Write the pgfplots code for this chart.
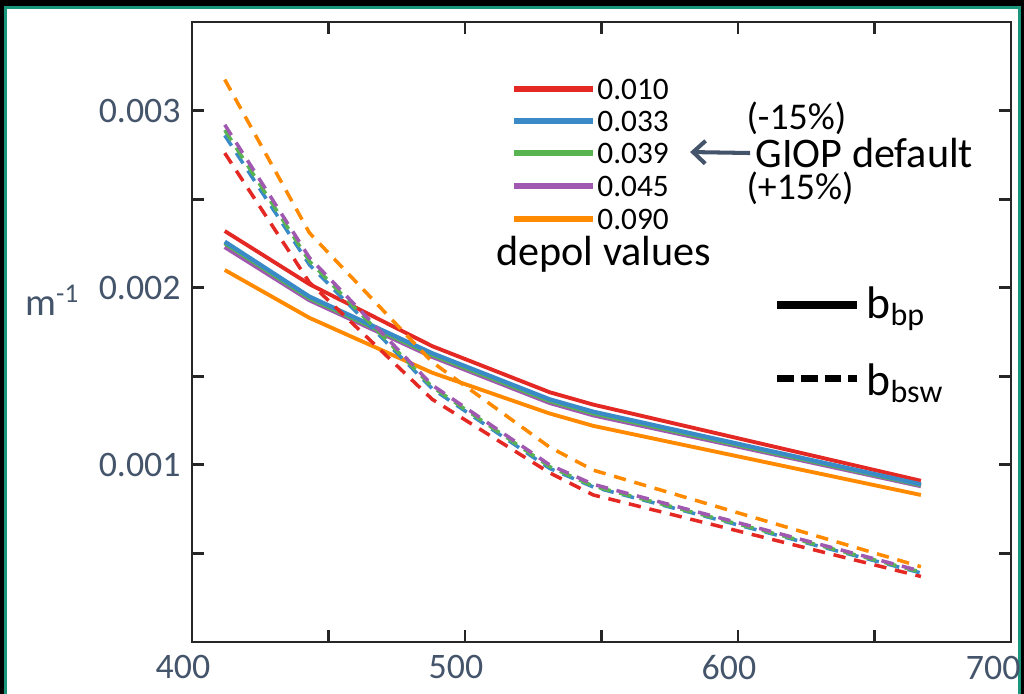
\documentclass[border=0pt]{standalone}
\usepackage{pgfplots}
\pgfplotsset{compat=1.18}
\usepackage{fontspec}
\setmainfont{Carlito}
\usetikzlibrary{arrows.meta}

\definecolor{cred}{RGB}{228,40,36}
\definecolor{cblue}{RGB}{58,138,200}
\definecolor{cgreen}{RGB}{88,180,80}
\definecolor{cpurple}{RGB}{160,88,176}
\definecolor{corange}{RGB}{255,138,0}
\definecolor{slate}{RGB}{68,84,106}
\definecolor{frame}{RGB}{26,150,125}
\definecolor{axgray}{RGB}{38,38,38}

\pgfplotstableread{
wl    red      blue     green     purple   orange
412   0.00232  0.00226  0.00225   0.00223  0.00210
443   0.00202  0.00195  0.00194   0.00193  0.00183
488   0.00167  0.00163  0.00162   0.00161  0.00152
531   0.00141  0.00137  0.00136   0.00135  0.00129
547   0.00134  0.00130  0.00129   0.00128  0.00122
667   0.00091  0.00089  0.000885  0.00088  0.00083
}\bbp

\pgfplotstableread{
wl    red      blue      green     purple   orange
412   0.00276  0.00286   0.00289   0.00292  0.003175
443   0.00203  0.00213   0.00215   0.00217  0.00231
488   0.00137  0.00143   0.00144   0.00145  0.00158
531   0.000955 0.00098   0.00099   0.00100  0.00110
547   0.00083  0.000875  0.00088   0.00089  0.00097
667   0.00037  0.00039   0.000395  0.00040  0.000425
}\bbsw

\begin{document}
\begin{tikzpicture}
% background and frame
\path[use as bounding box] (0,0) rectangle (20.48cm,13.88cm);
\fill[black] (0,0) rectangle (20.48cm,13.88cm);
\fill[frame] (0.08cm,0) rectangle (20.42cm,13.76cm);
\fill[white] (0.14cm,0) rectangle (20.36cm,13.70cm);

\begin{axis}[
    at={(3.84cm,1.04cm)}, anchor=south west,
    scale only axis, width=16.38cm, height=12.4cm,
    xmin=400, xmax=700, ymin=0, ymax=0.0035,
    xtick={400,500,600,700},
    xticklabels={400,500,600,},
    minor xtick={450,550,650},
    ytick={0.001,0.002,0.003},
    yticklabels={0.001,0.002,0.003},
    minor ytick={0.0005,0.0015,0.0025},
    scaled y ticks=false,
    tick align=inside,
    major tick length=6.8pt, minor tick length=6.8pt,
    every tick/.style={axgray, line width=1.6pt},
    axis line style={axgray, line width=1.7pt},
    tick label style={text=slate, font=\fontsize{20.4}{24}\selectfont},
    /pgf/number format/assume math mode=true,
    xticklabel style={yshift=-4pt, xshift=-0.18cm},
    yticklabel style={xshift=-3pt},
    clip=false,
]
\addplot[cred, line width=2.2pt, line join=round] table[x=wl,y=red] {\bbp};
\addplot[cpurple, line width=2.4pt, line join=round] table[x=wl,y=purple] {\bbp};
\addplot[cgreen, line width=2.2pt, line join=round] table[x=wl,y=green] {\bbp};
\addplot[cblue, line width=2.4pt, line join=round] table[x=wl,y=blue] {\bbp};
\addplot[corange, line width=2.2pt, line join=round] table[x=wl,y=orange] {\bbp};

\addplot[cred, line width=2pt, dash pattern=on 7pt off 5pt] table[x=wl,y=red] {\bbsw};
\addplot[cblue, line width=2pt, dash pattern=on 7pt off 5pt] table[x=wl,y=blue] {\bbsw};
\addplot[cgreen, line width=2pt, dash pattern=on 7pt off 5pt] table[x=wl,y=green] {\bbsw};
\addplot[cpurple, line width=2pt, dash pattern=on 7pt off 5pt] table[x=wl,y=purple] {\bbsw};
\addplot[corange, line width=2pt, dash pattern=on 7pt off 5pt] table[x=wl,y=orange] {\bbsw};
\end{axis}

% annotations in pixel coordinates of the reference
\begin{scope}[shift={(0,13.88cm)}, x=0.02cm, y=-0.02cm]
\node[text=slate, inner sep=0pt, font=\fontsize{20.4}{24}\selectfont] at (993,668) {700};
\node[text=slate, anchor=west, inner sep=0pt, font=\fontsize{22}{26}\selectfont] at (25,300) {m\textsuperscript{-1}};

\foreach \c/\v/\yy in {cred/0.010/89, cblue/0.033/121, cgreen/0.039/153, cpurple/0.045/186, corange/0.090/219}{
  \draw[\c, line width=3pt] (514,\yy) -- (593,\yy);
  \node[anchor=west, inner sep=0pt, font=\fontsize{17.8}{20}\selectfont] at (597,\yy) {\v};
}
\node[anchor=west, inner sep=0pt, font=\fontsize{21.5}{24}\selectfont] at (746,118) {(-15\%)};
\node[anchor=west, inner sep=0pt, font=\fontsize{24}{28}\selectfont] at (755,153) {GIOP default};
\node[anchor=west, inner sep=0pt, font=\fontsize{21.5}{24}\selectfont] at (746,188) {(+15\%)};
\draw[slate, line width=2.3pt, -{Straight Barb[length=7pt,width=13pt]}] (750,153) -- (690,152);
\node[anchor=base west, inner sep=0pt, font=\fontsize{24}{28}\selectfont] at (496,265) {depol values};

\draw[black, line width=5pt] (777,305) -- (857,305);
\draw[black, line width=4pt, dash pattern=on 9.5pt off 4pt] (777,378) -- (857,378);
\node[anchor=base west, inner sep=0pt, font=\fontsize{26}{30}\selectfont] at (866,318) {b\textsubscript{bp}};
\node[anchor=base west, inner sep=0pt, font=\fontsize{26}{30}\selectfont] at (866,395) {b\textsubscript{bsw}};
\end{scope}
\end{tikzpicture}
\end{document}
